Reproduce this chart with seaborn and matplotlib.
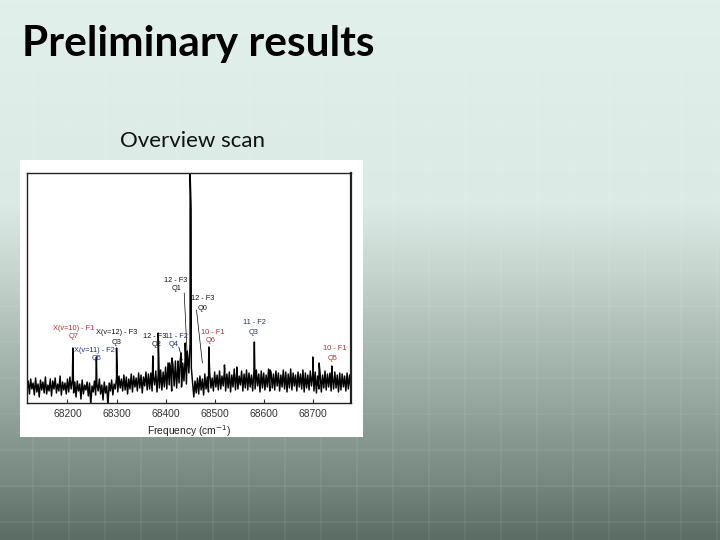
import numpy as np
import pandas as pd
import matplotlib
matplotlib.use("Agg")
import matplotlib.pyplot as plt
import seaborn as sns
from matplotlib.patches import Rectangle
from matplotlib.colors import LinearSegmentedColormap

# ---------------- data ----------------
freq_start = 68117.5
freq_step = 2.5
trace_intensity = [
    12, 22, 9, 24, 14, 20, 8, 25, 11, 19, 6, 23, 13, 21, 10, 26, 9, 18, 12, 24,
    7, 22, 14, 25, 10, 19, 12, 27, 8, 21, 13, 20, 9, 24, 11, 26, 14, 23, 10, 21,
    6, 22, 12, 19, 4, 23, 9, 18, 13, 21, 7, 20, -2, 17, 11, 22, 8, 19, 12, 24,
    9, 18, 3, 21, 10, 17, -3, 20, 12, 23, 8, 19, 14, 25, 11, 27, 15, 24, 12, 28,
    13, 26, 9, 24, 14, 29, 11, 27, 16, 25, 12, 30, 15, 28, 10, 26, 17, 31, 13, 29,
    14, 30, 12, 27, 18, 32, 11, 29, 15, 33, 13, 31, 16, 36, 14, 40, 18, 34, 12, 38,
    17, 42, 15, 37, 20, 44, 16, 40, 22, 46, 19, 48, 30, 60, 35, 20, 6, 22, 10, 25,
    9, 27, 13, 24, 8, 29, 14, 26, 11, 30, 15, 25, 12, 31, 16, 28, 13, 32, 14, 27,
    17, 33, 12, 29, 15, 31, 11, 28, 16, 34, 13, 30, 14, 27, 18, 32, 12, 29, 15, 33,
    13, 30, 16, 28, 12, 31, 14, 33, 17, 29, 11, 32, 15, 30, 13, 28, 16, 34, 12, 31,
    15, 29, 13, 32, 17, 30, 12, 28, 16, 33, 14, 31, 11, 29, 15, 34, 13, 30, 17, 28,
    12, 31, 16, 29, 14, 33, 11, 30, 15, 28, 13, 32, 17, 29, 12, 31, 10, 27, 14, 30,
    11, 28, 15, 32, 13, 29, 16, 30, 12, 27, 14, 31, 15, 28, 11, 30, 13, 29, 16, 27,
    12, 30, 14, 28, 15,
]
peak_freq = [68211, 68259, 68300, 68374, 68385, 68408, 68413, 68425, 68432,
             68440, 68444, 68450, 68452, 68488, 68520, 68545, 68581, 68613,
             68700, 68713, 68739]
peak_height = [55, 46, 55, 47, 70, 40, 45, 42, 50,
               60, 52, 230, 195, 56, 38, 36, 61, 33,
               46, 40, 37]

xticks = [68200, 68300, 68400, 68500, 68600, 68700]

label_text = ["X(v=10) - F1", "Q7", "X(v=12) - F3", "Q3", "X(v=11) - F2", "Q5",
              "12 - F3", "Q1", "12 - F3", "Q0", "12 - F3", "Q2",
              "11 - F2", "Q4", "10 - F1", "Q6", "11 - F2", "Q3", "10 - F1", "Q5"]
label_freq = [68212, 68212, 68301, 68301, 68255, 68259,
              68421, 68422, 68476, 68476, 68378, 68382,
              68422, 68417, 68496, 68492, 68582, 68580, 68745, 68741]
label_y = [75, 66, 70, 61, 53, 44,
           123, 114, 104, 95, 67, 58,
           67, 58, 71, 62, 80, 70, 54, 45]
RED, BLUE, BLK = "#c0282a", "#1c2a8a", "#111111"
label_color = [RED, RED, BLK, BLK, BLUE, BLUE,
               BLK, BLK, BLK, BLK, BLK, BLK,
               BLUE, BLUE, RED, RED, BLUE, BLUE, RED, RED]

leader_f0 = [68438, 68463, 68427]
leader_y0 = [110, 93, 56]
leader_f1 = [68444, 68475, 68434]
leader_y1 = [48, 40, 43]

# ---------------- build table ----------------
trace_freq = freq_start + freq_step * np.arange(len(trace_intensity))
df = pd.concat([
    pd.DataFrame({"freq": trace_freq, "intensity": trace_intensity}),
    pd.DataFrame({"freq": peak_freq, "intensity": peak_height}),
]).sort_values("freq").reset_index(drop=True)

# ---------------- figure ----------------
sns.set_theme(style="white")
plt.rcParams["font.family"] = ["Lato", "DejaVu Sans"]

W, H = 720, 540
fig = plt.figure(figsize=(7.2, 5.4), dpi=100)

# slide background
bg = fig.add_axes([0, 0, 1, 1], zorder=0)
bg.set_axis_off()
cmap = LinearSegmentedColormap.from_list(
    "slide",
    [(0.0, "#e1f0ea"), (0.38, "#dbeae4"), (0.52, "#c3d2cb"),
     (0.72, "#9aaca4"), (0.88, "#7a8b84"), (1.0, "#5c6c66")])
bg.imshow(np.linspace(0, 1, 540)[:, None], aspect="auto", cmap=cmap,
          extent=(0, W, H, 0))
for gx in range(33, W, 36):
    bg.axvline(gx, color="white", alpha=0.07, lw=1.2)
for gy in range(18, H, 36):
    bg.axhline(gy, color="white", alpha=0.07, lw=1.2)
bg.add_patch(Rectangle((20, 160), 343, 277, facecolor="white", edgecolor="none"))
bg.set_xlim(0, W)
bg.set_ylim(H, 0)

fig.text(22 / W, 1 - 56 / H, "Preliminary results", fontsize=30.5,
         fontweight="bold", color="black", ha="left", va="baseline",
         family=["Lato", "DejaVu Sans"])
fig.text(120 / W, 1 - 147 / H, "Overview scan", fontsize=16,
         color="#111111", ha="left", va="baseline",
         family=["Lato", "DejaVu Sans"])

# chart axes
ax = fig.add_axes([27 / W, 1 - 403 / H, 324 / W, 230 / H], zorder=2)
ax.set_facecolor("white")
sns.lineplot(data=df, x="freq", y="intensity", ax=ax, color="black",
             lw=1.05, estimator=None, sort=True)
ax.set_xlim(68117.5, 68778)
ax.set_ylim(0, 230)
ax.set_yticks([])
ax.set_ylabel("")
ax.set_xticks(xticks)
ax.set_xticklabels([str(t) for t in xticks], fontsize=7.4, color="#333333",
                   family=["Liberation Sans", "DejaVu Sans"])
ax.tick_params(axis="x", direction="in", length=3, width=0.8, color="#333333",
               pad=4, bottom=True)
ax.set_xlabel("Frequency (cm$^{-1}$)", fontsize=7.4, color="#222222",
              family=["Liberation Sans", "DejaVu Sans"], labelpad=3)
for s in ax.spines.values():
    s.set_visible(True)
    s.set_color("#222222")
    s.set_linewidth(1.0)
ax.spines["right"].set_linewidth(1.6)

for t, f, y, c in zip(label_text, label_freq, label_y, label_color):
    ax.text(f, y, t, fontsize=5.3, color=c, ha="center", va="center",
            family=["Liberation Sans", "DejaVu Sans"])
for f0, y0, f1, y1 in zip(leader_f0, leader_y0, leader_f1, leader_y1):
    ax.plot([f0, f1], [y0, y1], color="black", lw=0.5)

fig.savefig("out.png", dpi=100)
